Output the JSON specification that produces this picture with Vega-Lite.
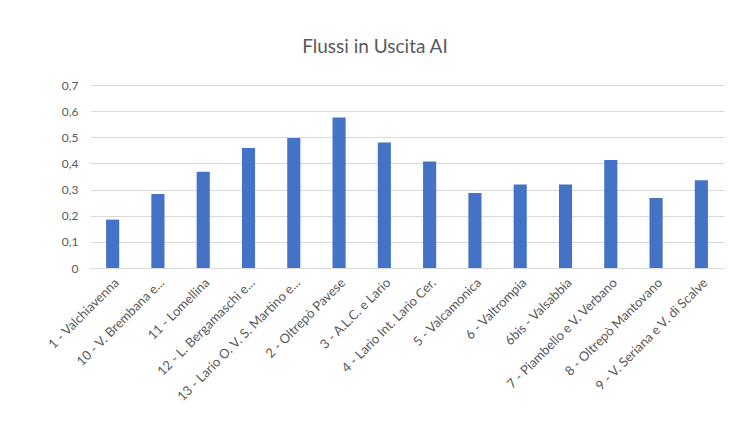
{
  "$schema": "https://vega.github.io/schema/vega-lite/v6.json",
  "autosize": {"type": "none"},
  "width": 634,
  "height": 183,
  "padding": {"left": 90, "top": 85, "right": 10, "bottom": 179},
  "background": "white",
  "title": {
    "text": "Flussi in Uscita AI",
    "font": "Lato",
    "fontSize": 19,
    "fontWeight": "normal",
    "color": "#595959",
    "anchor": "middle",
    "dx": -32,
    "offset": 22
  },
  "data": {
    "values": [
      {"zona": "1 - Valchiavenna", "valore": 0.185},
      {"zona": "10 - V. Brembana e...", "valore": 0.283},
      {"zona": "11 - Lomellina", "valore": 0.368},
      {"zona": "12 - L. Bergamaschi e...", "valore": 0.459},
      {"zona": "13 - Lario O. V. S. Martino e...", "valore": 0.497},
      {"zona": "2 - Oltrepò Pavese", "valore": 0.576},
      {"zona": "3 - A.L.C. e Lario", "valore": 0.48},
      {"zona": "4 - Lario Int. Lario Cer.", "valore": 0.407},
      {"zona": "5 - Valcamonica", "valore": 0.287},
      {"zona": "6 - Valtrompia", "valore": 0.319},
      {"zona": "6bis - Valsabbia", "valore": 0.319},
      {"zona": "7 - Piambello e V. Verbano", "valore": 0.413},
      {"zona": "8 - Oltrepò Mantovano", "valore": 0.268},
      {"zona": "9 - V. Seriana e V. di Scalve", "valore": 0.336}
    ]
  },
  "mark": {"type": "bar", "color": "#4472C4"},
  "encoding": {
    "x": {
      "field": "zona",
      "type": "nominal",
      "sort": null,
      "scale": {"paddingInner": 0.71, "paddingOuter": 0.355},
      "axis": {
        "title": null,
        "labelAngle": -45,
        "labelFont": "Lato",
        "labelFontSize": 13,
        "labelColor": "#595959",
        "labelPadding": 8,
        "labelLimit": 300,
        "ticks": false,
        "domainColor": "#d9d9d9",
        "grid": false
      }
    },
    "y": {
      "field": "valore",
      "type": "quantitative",
      "scale": {"domain": [0, 0.7]},
      "axis": {
        "title": null,
        "values": [0, 0.1, 0.2, 0.3, 0.4, 0.5, 0.6, 0.7],
        "labelExpr": "datum.value == 0 ? '0' : replace(format(datum.value, '.1f'), '.', ',')",
        "labelFont": "Lato",
        "labelFontSize": 12,
        "labelColor": "#595959",
        "labelPadding": 12,
        "ticks": false,
        "domain": false,
        "gridColor": "#d9d9d9"
      }
    }
  },
  "config": {"view": {"stroke": null}}
}
